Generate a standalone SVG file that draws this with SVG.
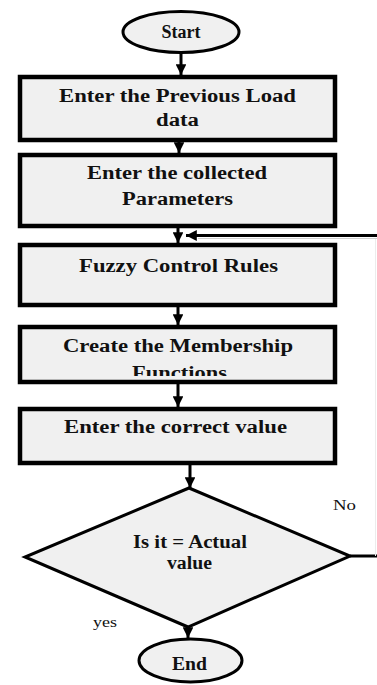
<svg xmlns="http://www.w3.org/2000/svg" width="377" height="685" viewBox="0 0 377 685">
  <defs>
    <marker id="arrow" viewBox="0 0 10 10" refX="10" refY="5" markerWidth="3.6" markerHeight="3.6" orient="auto" markerUnits="strokeWidth">
      <path d="M0,0 L10,5 L0,10 z" fill="#000"/>
    </marker>
    <clipPath id="clip-membership">
      <rect x="20" y="327" width="315" height="49"/>
    </clipPath>
  </defs>
  <style>
    .box { fill: #f0f0f0; stroke: #000; stroke-width: 4.5; }
    .term { fill: #f0f0f0; stroke: #000; stroke-width: 3; }
    .dec { fill: #f0f0f0; stroke: #000; stroke-width: 3; stroke-linejoin: miter; }
    .lbl { font-family: "Liberation Serif", "Times New Roman", serif; font-weight: bold; font-size: 18px; fill: #111; text-anchor: middle; }
    .note { font-family: "Liberation Serif", "Times New Roman", serif; font-size: 14px; fill: #111; }
    .conn { stroke: #000; stroke-width: 3; fill: none; }
  </style>
  <rect width="377" height="685" fill="#fff"/>

  <!-- connectors -->
  <g id="connectors">
    <line class="conn" x1="181" y1="53" x2="181" y2="75" marker-end="url(#arrow)"/>
    <line class="conn" x1="179" y1="142" x2="179" y2="153" marker-end="url(#arrow)"/>
    <line class="conn" x1="178" y1="228" x2="178" y2="243" marker-end="url(#arrow)"/>
    <line class="conn" x1="178" y1="307" x2="178" y2="325" marker-end="url(#arrow)"/>
    <line class="conn" x1="178" y1="384" x2="178" y2="407" marker-end="url(#arrow)"/>
    <line class="conn" x1="190" y1="465" x2="190" y2="488" marker-end="url(#arrow)"/>
    <line class="conn" x1="188" y1="627" x2="188" y2="638" marker-end="url(#arrow)"/>
    <!-- "No" branch returning above the rules box -->
    <line class="conn" x1="350" y1="556" x2="377" y2="556"/>
    <line x1="375.5" y1="238" x2="375.5" y2="556" stroke="#ececec" stroke-width="1"/>
    <line x1="198" y1="238.5" x2="377" y2="238.5" stroke="#cfcfcf" stroke-width="1.2"/>
    <line class="conn" x1="377" y1="235.5" x2="186" y2="235.5" marker-end="url(#arrow)"/>
  </g>

  <g id="start">
    <ellipse class="term" cx="181" cy="32" rx="58" ry="20.5"/>
    <text class="lbl" x="181" y="37.5" font-size="14" textLength="39" lengthAdjust="spacingAndGlyphs">Start</text>
  </g>

  <g id="previous-load">
    <rect class="box" x="20" y="77" width="315" height="63"/>
    <text class="lbl" x="177.5" y="101.5" textLength="237" lengthAdjust="spacingAndGlyphs">Enter the Previous Load</text>
    <text class="lbl" x="177.5" y="126" textLength="43" lengthAdjust="spacingAndGlyphs">data</text>
  </g>

  <g id="parameters">
    <rect class="box" x="20" y="155" width="315" height="71"/>
    <text class="lbl" x="177" y="179" textLength="180" lengthAdjust="spacingAndGlyphs">Enter the collected</text>
    <text class="lbl" x="177.5" y="205" textLength="111" lengthAdjust="spacingAndGlyphs">Parameters</text>
  </g>

  <g id="fuzzy-rules">
    <rect class="box" x="20" y="245" width="315" height="60"/>
    <text class="lbl" x="178.5" y="271.5" textLength="199" lengthAdjust="spacingAndGlyphs">Fuzzy Control Rules</text>
  </g>

  <g id="membership">
    <rect class="box" x="20" y="327" width="315" height="55"/>
    <text class="lbl" x="178" y="351.5" textLength="230" lengthAdjust="spacingAndGlyphs">Create the Membership</text>
    <text class="lbl" x="179.5" y="379" textLength="95" lengthAdjust="spacingAndGlyphs" clip-path="url(#clip-membership)">Functions</text>
  </g>

  <g id="correct-value">
    <rect class="box" x="20" y="409" width="315" height="54"/>
    <text class="lbl" x="175.5" y="433" textLength="223" lengthAdjust="spacingAndGlyphs">Enter the correct value</text>
  </g>

  <g id="decision">
    <polygon class="dec" points="189,488 350,556 188,627 25,557"/>
    <text class="lbl" x="190" y="547.5" textLength="114" lengthAdjust="spacingAndGlyphs">Is it = Actual</text>
    <text class="lbl" x="189.5" y="569" textLength="45" lengthAdjust="spacingAndGlyphs">value</text>
    <text class="note" x="333" y="510" textLength="23" lengthAdjust="spacingAndGlyphs">No</text>
    <text class="note" x="93" y="627" textLength="24" lengthAdjust="spacingAndGlyphs">yes</text>
  </g>

  <g id="end">
    <ellipse class="term" cx="190.5" cy="660.5" rx="51.5" ry="21.5"/>
    <text class="lbl" x="189.5" y="670" textLength="35" lengthAdjust="spacingAndGlyphs">End</text>
  </g>
</svg>
